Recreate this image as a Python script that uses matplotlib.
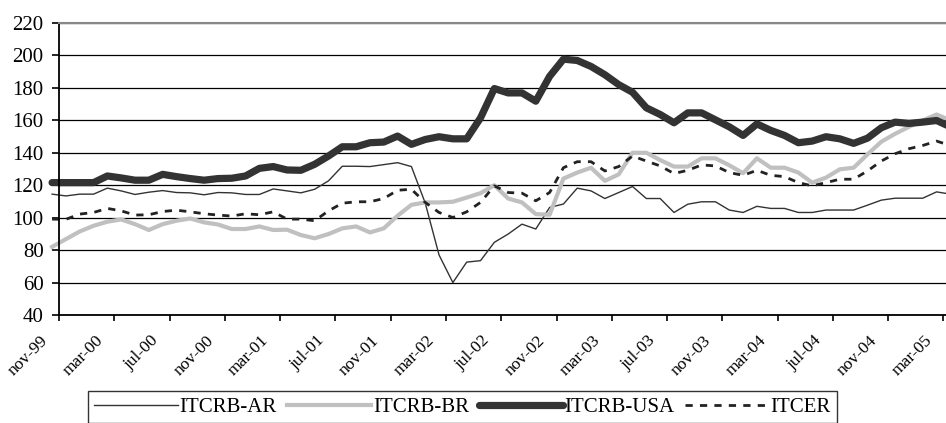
import matplotlib
matplotlib.use('Agg')
import matplotlib.pyplot as plt
from matplotlib.transforms import ScaledTranslation

plt.rcParams['font.family'] = 'Liberation Serif'

# month labels on the ticks (every 4 months, nov-99 .. mar-05)
tick_labels = ['nov-99', 'mar-00', 'jul-00', 'nov-00', 'mar-01', 'jul-01', 'nov-01',
               'mar-02', 'jul-02', 'nov-02', 'mar-03', 'jul-03', 'nov-03', 'mar-04',
               'jul-04', 'nov-04', 'mar-05']

# monthly series
itcrb_ar = [114.5, 113.4, 114.5, 114.5, 118.2, 116.5, 114.3, 115.7, 116.7, 115.5,
            115.3, 114.1, 115.5, 115.3, 114.3, 114.3, 117.7, 116.5, 115.3, 117.5,
            122.7, 131.7, 131.7, 131.5, 132.7, 133.9, 131.5, 109.0, 77.0, 60.0,
            72.6, 73.5, 84.8, 89.9, 96.0, 93.0, 106.3, 108.4, 118.2, 116.5,
            111.8, 115.5, 119.2, 111.8, 111.8, 103.2, 108.3, 109.8, 109.8, 104.7,
            103.2, 107.0, 105.7, 105.7, 103.2, 103.2, 104.7, 104.7, 104.7, 107.7,
            110.8, 112.0, 112.0, 112.0, 115.9, 114.5]
itcrb_br = [82.0, 86.8, 91.5, 95.0, 97.5, 98.9, 96.0, 92.4, 96.0, 98.1,
            99.5, 97.1, 95.8, 93.0, 93.0, 94.6, 92.4, 92.6, 89.3, 87.3,
            89.9, 93.4, 94.6, 90.9, 93.4, 101.2, 107.9, 109.4, 109.4, 109.8,
            112.4, 115.1, 120.0, 111.8, 109.4, 102.2, 101.8, 124.1, 127.8, 130.8,
            122.7, 126.7, 140.0, 140.0, 135.5, 131.5, 131.5, 136.6, 136.6, 132.3,
            127.4, 136.6, 130.8, 130.8, 127.8, 121.6, 124.7, 129.8, 130.8, 139.0,
            146.8, 151.7, 156.0, 159.9, 163.6, 160.0]
itcrb_usa = [121.6, 121.6, 121.6, 121.6, 125.7, 124.5, 123.1, 123.1, 126.7, 125.3,
             124.1, 123.1, 124.1, 124.3, 125.7, 130.4, 131.5, 129.4, 129.2, 132.9,
             138.0, 143.7, 143.7, 146.2, 146.6, 150.3, 145.2, 148.2, 149.9, 148.6,
             148.6, 161.5, 179.6, 176.9, 176.9, 171.8, 187.1, 197.7, 196.9, 193.2,
             188.1, 182.0, 177.3, 167.7, 163.6, 158.5, 164.6, 164.6, 160.3, 156.0,
             150.7, 157.8, 153.8, 150.7, 146.2, 147.2, 149.9, 148.6, 145.8, 149.0,
             155.4, 158.9, 158.1, 158.9, 159.9, 156.0]
itcer = [99.1, 99.0, 102.2, 103.2, 105.7, 104.2, 101.6, 101.8, 103.8, 104.6,
         103.6, 102.4, 101.6, 101.0, 102.4, 101.8, 103.6, 99.1, 99.1, 98.1,
         104.2, 108.9, 109.8, 109.8, 111.8, 116.9, 117.5, 109.4, 103.2, 100.1,
         103.6, 109.4, 119.6, 115.5, 115.1, 110.4, 115.5, 130.8, 134.5, 134.5,
         128.8, 131.5, 138.0, 134.9, 131.9, 127.2, 129.2, 132.5, 131.9, 127.8,
         126.1, 129.2, 126.1, 125.3, 121.6, 119.6, 121.6, 123.7, 123.7, 128.8,
         134.9, 139.4, 142.5, 144.5, 147.2, 144.5]

months = list(range(len(itcrb_ar)))

fig = plt.figure(figsize=(9.46, 4.23), dpi=100)
ax = fig.add_axes([59 / 946, 1 - 315 / 423, 887 / 946, 292 / 423])

ax.plot(months, itcrb_ar, color='#333333', lw=1.0, label='ITCRB-AR', clip_on=False)
ax.plot(months, itcrb_br, color='#c0c0c0', lw=3.0, label='ITCRB-BR', clip_on=False)
ax.plot(months, itcrb_usa, color='#333333', lw=5.2, label='ITCRB-USA',
        solid_capstyle='round', clip_on=False)
ax.plot(months, itcer, color='#222222', lw=2.0, dashes=(2.6, 2.6), label='ITCER',
        clip_on=False)

ax.set_ylim(40, 220)
ax.set_yticks(range(40, 221, 20))
ax.set_xlim(0.5, 0.5 + 887 / 13.82)
ax.set_xticks([0.5 + 4 * j for j in range(len(tick_labels))])
ax.set_xticklabels(tick_labels, rotation=45, ha='right', va='top', fontsize=12.5)

ax.set_axisbelow(True)
ax.grid(axis='y', color='black', lw=0.9)
ax.grid(axis='x', visible=False)

ax.spines['right'].set_visible(False)
ax.spines['top'].set_color('#888888')
ax.spines['top'].set_linewidth(1.5)
ax.spines['left'].set_linewidth(1.3)
ax.spines['bottom'].set_linewidth(1.3)

ax.tick_params(axis='y', direction='out', length=5, width=1.2, pad=6, labelsize=15)
ax.tick_params(axis='x', direction='out', length=4.5, width=1.2, pad=8)

# shift month labels a little left like the original
off = ScaledTranslation(-8 / 100, 0, fig.dpi_scale_trans)
for lab in ax.get_xticklabels():
    lab.set_transform(lab.get_transform() + off)

leg = fig.legend(loc='upper left', bbox_to_anchor=(88 / 946, 1 - 391 / 423),
                 bbox_transform=fig.transFigure, ncol=4, fontsize=15,
                 frameon=True, fancybox=False, borderaxespad=0, borderpad=0.3,
                 handlelength=4.0, handletextpad=0.1, columnspacing=0.5)
leg.get_frame().set_edgecolor('black')
leg.get_frame().set_linewidth(1.0)

plt.savefig('out.png', dpi=100)
